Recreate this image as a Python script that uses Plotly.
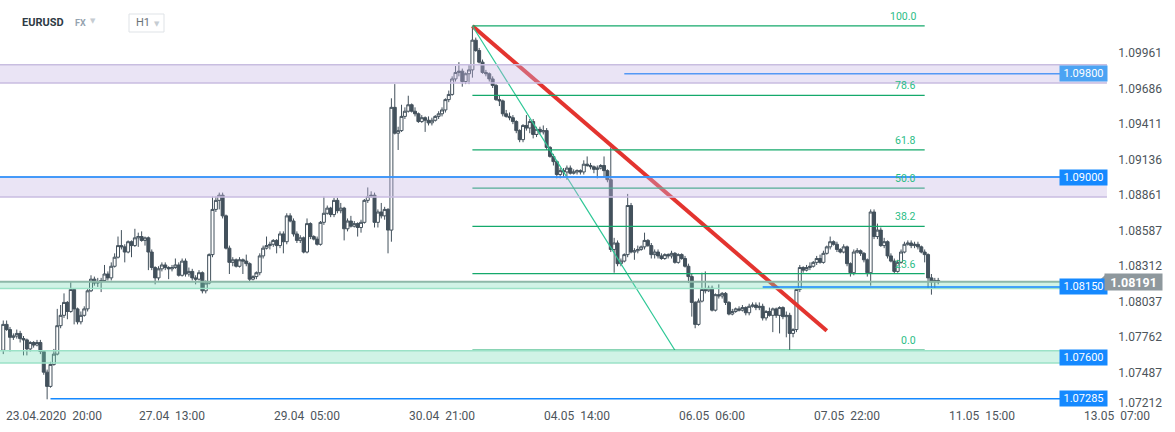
import plotly.graph_objects as go

# EURUSD H1 candles, index 0 = 23.04.2020 10:00 ; prices stored in 1e-4 units
first_open = 10766
closes = [
    10786, 10782, 10776, 10777, 10779, 10775, 10774, 10767, 10772, 10770,
    10772, 10765, 10749, 10738, 10755, 10763, 10785, 10793, 10803, 10796,
    10813, 10798, 10788, 10793, 10798, 10812, 10821, 10818, 10819, 10820,
    10825, 10822, 10831, 10838, 10847, 10846, 10842, 10850, 10847, 10853,
    10854, 10851, 10853, 10842, 10830, 10822, 10829, 10832, 10830, 10829,
    10830, 10832, 10824, 10835, 10825, 10827, 10822, 10821, 10826, 10812,
    10818, 10840, 10875, 10882, 10886, 10870, 10845, 10834, 10836, 10831,
    10836, 10835, 10833, 10821, 10823, 10826, 10839, 10845, 10847, 10848,
    10851, 10847, 10856, 10850, 10870, 10866, 10856, 10851, 10853, 10842,
    10864, 10854, 10852, 10848, 10865, 10872, 10876, 10871, 10882, 10874,
    10876, 10860, 10866, 10862, 10864, 10861, 10865, 10882, 10885, 10886,
    10865, 10873, 10870, 10875, 10859, 10954, 10934, 10936, 10947, 10951,
    10956, 10951, 10949, 10943, 10946, 10944, 10942, 10944, 10947, 10949,
    10952, 10960, 10964, 10976, 10981, 10982, 10974, 10980, 10983, 11006,
    10998, 10989, 10981, 10980, 10976, 10971, 10960, 10959, 10949, 10947,
    10946, 10943, 10936, 10929, 10940, 10938, 10943, 10933, 10937, 10935,
    10936, 10923, 10916, 10912, 10902, 10905, 10904, 10907, 10903, 10904,
    10905, 10904, 10910, 10909, 10908, 10906, 10907, 10909, 10905, 10898,
    10844, 10849, 10833, 10835, 10840, 10878, 10842, 10843, 10844, 10846,
    10851, 10847, 10840, 10842, 10839, 10837, 10840, 10839, 10841, 10834,
    10840, 10837, 10831, 10823, 10803, 10786, 10804, 10813, 10812, 10814,
    10797, 10809, 10808, 10810, 10803, 10794, 10796, 10798, 10797, 10799,
    10795, 10800, 10801, 10799, 10800, 10791, 10796, 10793, 10798, 10793,
    10799, 10792, 10793, 10779, 10782, 10813, 10830, 10828, 10830, 10831,
    10834, 10837, 10834, 10841, 10846, 10850, 10848, 10844, 10842, 10846,
    10833, 10826, 10842, 10843, 10841, 10836, 10826, 10873, 10854, 10859,
    10847, 10850, 10839, 10835, 10827, 10834, 10842, 10848, 10849, 10847,
    10848, 10846, 10842, 10840, 10822, 10819, 10820, 10819,
]
highs = [
    10789, 10789, 10784, 10779, 10782, 10781, 10777, 10775, 10773, 10773,
    10774, 10774, 10766, 10751, 10757, 10767, 10798, 10801, 10810, 10804,
    10819, 10814, 10799, 10796, 10800, 10814, 10824, 10823, 10822, 10822,
    10832, 10827, 10834, 10841, 10854, 10859, 10848, 10851, 10851, 10860,
    10857, 10858, 10854, 10854, 10844, 10831, 10831, 10834, 10834, 10831,
    10832, 10837, 10834, 10837, 10837, 10830, 10829, 10824, 10828, 10827,
    10820, 10841, 10885, 10885, 10888, 10888, 10871, 10847, 10838, 10837,
    10838, 10837, 10840, 10834, 10824, 10827, 10841, 10847, 10854, 10850,
    10852, 10852, 10858, 10858, 10872, 10872, 10868, 10858, 10855, 10854,
    10868, 10865, 10855, 10854, 10866, 10885, 10878, 10877, 10884, 10884,
    10880, 10877, 10868, 10870, 10866, 10865, 10867, 10883, 10892, 10889,
    10888, 10875, 10880, 10877, 10876, 10961, 10972, 10939, 10956, 10954,
    10963, 10957, 10954, 10950, 10948, 10947, 10947, 10946, 10948, 10951,
    10954, 10961, 10967, 10978, 10986, 10989, 10984, 10981, 10987, 11017,
    11008, 11000, 10991, 10983, 10981, 10978, 10972, 10963, 10960, 10952,
    10950, 10948, 10944, 10937, 10941, 10948, 10945, 10945, 10939, 10939,
    10940, 10938, 10924, 10918, 10913, 10907, 10907, 10909, 10909, 10906,
    10906, 10906, 10913, 10916, 10911, 10909, 10909, 10910, 10916, 10906,
    10923, 10853, 10851, 10837, 10841, 10887, 10880, 10845, 10847, 10847,
    10857, 10852, 10849, 10844, 10844, 10841, 10841, 10841, 10843, 10842,
    10841, 10841, 10839, 10833, 10825, 10804, 10806, 10826, 10827, 10816,
    10816, 10810, 10817, 10811, 10811, 10804, 10798, 10799, 10800, 10801,
    10800, 10802, 10803, 10803, 10803, 10802, 10797, 10799, 10799, 10799,
    10800, 10800, 10796, 10795, 10783, 10814, 10832, 10831, 10832, 10834,
    10835, 10839, 10840, 10843, 10847, 10854, 10851, 10850, 10845, 10848,
    10847, 10834, 10844, 10845, 10844, 10842, 10837, 10875, 10875, 10864,
    10861, 10853, 10851, 10841, 10837, 10836, 10844, 10850, 10851, 10851,
    10850, 10850, 10847, 10844, 10841, 10825, 10822, 10822,
]
lows = [
    10763, 10781, 10765, 10774, 10775, 10772, 10762, 10762, 10765, 10768,
    10769, 10763, 10747, 10728, 10737, 10754, 10762, 10783, 10791, 10790,
    10795, 10786, 10786, 10786, 10792, 10796, 10811, 10816, 10815, 10811,
    10819, 10820, 10820, 10830, 10837, 10844, 10834, 10841, 10838, 10846,
    10846, 10850, 10847, 10828, 10828, 10817, 10820, 10827, 10828, 10821,
    10827, 10829, 10823, 10823, 10823, 10823, 10820, 10817, 10820, 10810,
    10810, 10817, 10838, 10873, 10875, 10868, 10844, 10825, 10831, 10830,
    10830, 10825, 10831, 10819, 10820, 10821, 10824, 10837, 10844, 10844,
    10846, 10841, 10845, 10841, 10848, 10865, 10854, 10849, 10849, 10841,
    10841, 10852, 10851, 10847, 10847, 10863, 10871, 10869, 10869, 10872,
    10872, 10851, 10858, 10861, 10861, 10854, 10857, 10864, 10880, 10884,
    10861, 10861, 10868, 10867, 10841, 10850, 10933, 10921, 10935, 10945,
    10950, 10950, 10947, 10942, 10942, 10935, 10940, 10940, 10943, 10945,
    10947, 10950, 10958, 10963, 10974, 10978, 10970, 10972, 10972, 10977,
    10997, 10988, 10980, 10978, 10974, 10969, 10959, 10955, 10947, 10946,
    10944, 10941, 10934, 10927, 10927, 10936, 10934, 10930, 10931, 10933,
    10933, 10921, 10915, 10909, 10899, 10899, 10900, 10898, 10902, 10902,
    10902, 10902, 10902, 10908, 10906, 10903, 10899, 10906, 10900, 10896,
    10842, 10826, 10831, 10831, 10834, 10838, 10841, 10836, 10841, 10843,
    10844, 10846, 10837, 10837, 10837, 10836, 10836, 10837, 10837, 10833,
    10833, 10836, 10830, 10818, 10792, 10783, 10785, 10803, 10810, 10811,
    10796, 10796, 10806, 10806, 10801, 10793, 10793, 10795, 10796, 10796,
    10793, 10793, 10799, 10797, 10797, 10789, 10789, 10792, 10780, 10791,
    10779, 10790, 10776, 10766, 10776, 10780, 10811, 10826, 10827, 10828,
    10830, 10832, 10833, 10833, 10840, 10844, 10847, 10842, 10841, 10841,
    10831, 10823, 10824, 10841, 10839, 10834, 10823, 10816, 10852, 10852,
    10846, 10845, 10837, 10834, 10825, 10826, 10833, 10841, 10847, 10845,
    10845, 10844, 10841, 10834, 10814, 10809, 10814, 10817,
]

date_ticks = [50, 90, 130, 170, 210, 250, 290, 330]
date_labels = ["27.04  13:00", "29.04  05:00", "30.04  21:00",
               "04.05  14:00", "06.05  06:00", "07.05  22:00", "11.05  15:00",
               "13.05  07:00"]
first_tick, first_label = 10, "23.04.2020  20:00"
price_ticks = [1.07487, 1.07762, 1.08037, 1.08312, 1.08587,
               1.08861, 1.09136, 1.09411, 1.09686, 1.09961]
bottom_tick = 1.07212

purple_zones = [(1.09729, 1.09870), (1.08846, 1.09000)]
green_zones = [(1.08137, 1.08190), (1.07561, 1.07655)]
level_prices = [1.09800, 1.09000, 1.08150, 1.07600, 1.07285]
level_starts = [184, -1, 225, None, 14]
last_price = 1.08191

fib_ratios = [0.0, 23.6, 38.2, 50.0, 61.8, 78.6, 100.0]
fib_top_idx, fib_bottom_idx, fib_end_idx = 139, 233, 273
fib_diag_end_idx = 199
red_trend_x = [139, 244]
red_trend_y = [1.1017, 1.0781]

CANDLE = "#43515c"
BLUE = "#1589ff"
FIB = "#14a96b"
AXIS_TXT = "#4d555b"
ZONE_END = 327
X_RANGE = [-0.963, 344.2]
Y_RANGE = [1.07205, 1.10371]
PLOT_W, PLOT_H = 1165, 409

nb = "\u00a0"
idx = list(range(len(closes)))
close_p = [v / 1e4 for v in closes]
high_p = [v / 1e4 for v in highs]
low_p = [v / 1e4 for v in lows]
open_p = [first_open / 1e4] + close_p[:-1]

fig = go.Figure(go.Candlestick(
    x=idx, open=open_p, high=high_p, low=low_p, close=close_p,
    increasing=dict(line=dict(color=CANDLE, width=1), fillcolor="white"),
    decreasing=dict(line=dict(color=CANDLE, width=1), fillcolor=CANDLE),
    whiskerwidth=0, hoverinfo="skip", showlegend=False,
))
# invisible point so the overlay axes (edge labels) get drawn
fig.add_trace(go.Scatter(x=idx[-1:], y=close_p[-1:], xaxis="x2", yaxis="y2", mode="markers",
                         marker=dict(opacity=0), hoverinfo="skip", showlegend=False))

shapes = []


def hline(y, x0, x1, color, width=1):
    shapes.append(dict(type="line", xref="x", yref="y", x0=x0, x1=x1, y0=y, y1=y,
                       line=dict(color=color, width=width), layer="above"))


# trend lines
shapes.append(dict(type="line", xref="x", yref="y", x0=red_trend_x[0], x1=red_trend_x[1],
                   y0=red_trend_y[0], y1=red_trend_y[1],
                   line=dict(color="#e3342f", width=4), layer="above"))

fib_high = highs[fib_top_idx] / 1e4
fib_low = lows[fib_bottom_idx] / 1e4
fib_prices = [fib_low + r / 100 * (fib_high - fib_low) for r in fib_ratios]
shapes.append(dict(type="line", xref="x", yref="y", x0=fib_top_idx, x1=fib_diag_end_idx,
                   y0=fib_high, y1=fib_low, line=dict(color="#2cc795", width=1.2),
                   layer="above"))
for p in fib_prices:
    hline(p, fib_top_idx, fib_end_idx, FIB, 1.2)

# the 1.0980 level sits inside the upper zone
hline(level_prices[0], level_starts[0], ZONE_END, BLUE, 1.5)

for lo, hi in purple_zones:
    shapes.append(dict(type="rect", xref="x", yref="y", x0=-1, x1=ZONE_END, y0=lo, y1=hi,
                       fillcolor="rgba(196,180,228,0.36)", line=dict(width=0), layer="above"))
    hline(lo, -1, ZONE_END, "#c8bde0", 1.5)
    hline(hi, -1, ZONE_END, "#c8bde0", 1.5)

for i, (lo, hi) in enumerate(green_zones):
    shapes.append(dict(type="rect", xref="x", yref="y", x0=-1, x1=ZONE_END, y0=lo, y1=hi,
                       fillcolor="rgba(110,218,176,0.32)", line=dict(width=0), layer="above"))
    hline(lo, -1, ZONE_END, "#9be2c7", 1.5)
    hline(hi, -1, ZONE_END, "#8db8a8" if i == 0 else "#9be2c7", 2 if i == 0 else 1.5)

for p, start in zip(level_prices[1:], level_starts[1:]):
    if start is not None:
        hline(p, start, ZONE_END, BLUE, 1.5)

# arrow of the last-price tag
shapes.append(dict(type="path", xref="x", yref="y",
                   path=f"M 324.4,{last_price} L 326.6,{last_price + 0.00055} "
                        f"L 326.6,{last_price - 0.00055} Z",
                   fillcolor="#8e989d", line=dict(width=0), layer="above"))

# H1 selector box
shapes.append(dict(type="rect", xref="paper", yref="paper",
                   x0=129 / PLOT_W, x1=164 / PLOT_W, y0=1 - 32 / PLOT_H, y1=1 - 14 / PLOT_H,
                   line=dict(color="#dfe3e7", width=1), fillcolor="white", layer="above"))

annotations = []
for p, txt in zip(level_prices, ["1.09800", "1.09000", "1.08150", "1.07600", "1.07285"]):
    annotations.append(dict(x=320, y=p, xref="x", yref="y", text=txt, showarrow=False,
                            font=dict(color="white", size=11, family="Roboto"),
                            bgcolor="#4ba3f3" if txt == "1.09800" else BLUE,
                            borderpad=1, width=45, height=13))
annotations.append(dict(x=334.9, y=last_price, xref="x", yref="y", text="<b>1.08191</b>",
                        showarrow=False, font=dict(color="white", size=12.5, family="Roboto"),
                        bgcolor="#8e989d", borderpad=1, width=55, height=14))

for r, p in zip(fib_ratios, fib_prices):
    annotations.append(dict(x=271, y=p, xref="x", yref="y", text=f"{r:.1f}",
                            showarrow=False, xanchor="right", yanchor="bottom", yshift=1,
                            font=dict(color="#2bbd86", size=10.5, family="Roboto")))


def header(x, y, text, color, size, family="Roboto"):
    annotations.append(dict(x=x / PLOT_W, y=1 - y / PLOT_H, xref="paper", yref="paper",
                            text=text, showarrow=False, xanchor="left", yanchor="middle",
                            font=dict(color=color, size=size, family=family)))


header(20, 23, "<b>EURUSD</b>", "#2e3b45", 11)
header(73, 23, "<b>FX</b>", "#95a3af", 9)
header(88, 21, "▼", "#c6ccd2", 7, "DejaVu Sans")
header(134, 23, "H1", "#6a7277", 11)
header(152, 24, "▼", "#c6ccd2", 7, "DejaVu Sans")

xaxis_common = dict(range=X_RANGE, tickfont=dict(size=12, color=AXIS_TXT), showgrid=False,
                    zeroline=False, showline=False, ticks="", automargin=False,
                    ticklabeloverflow="allow", ticklabelstandoff=-2, fixedrange=True)
yaxis_common = dict(range=Y_RANGE, side="right", ticklabelposition="inside",
                    ticklabeloverflow="allow", tickfont=dict(size=12, color=AXIS_TXT),
                    showgrid=False, zeroline=False, showline=False, ticks="",
                    automargin=False, fixedrange=True)

fig.update_layout(
    width=1175, height=432,
    margin=dict(l=0, r=10, t=0, b=23),
    paper_bgcolor="white", plot_bgcolor="white",
    font=dict(family="Roboto", color=AXIS_TXT),
    boxgap=0.12, boxgroupgap=0,
    shapes=shapes, annotations=annotations,
    xaxis=dict(tickvals=date_ticks, ticktext=[t.replace("  ", nb + nb) for t in date_labels],
               rangeslider=dict(visible=False), **xaxis_common),
    xaxis2=dict(overlaying="x", side="bottom", tickvals=[first_tick],
                ticktext=[first_label.replace("  ", nb + nb)], ticklabelshift=17,
                **xaxis_common),
    yaxis=dict(tickvals=price_ticks, ticktext=[f"{v:.5f}" for v in price_ticks],
               **yaxis_common),
    yaxis2=dict(overlaying="y", tickvals=[bottom_tick], ticktext=[f"{bottom_tick:.5f}"],
                ticklabelshift=-5, **yaxis_common),
)

fig.write_html("out.html", config={"displayModeBar": False},
               post_script="document.body.style.margin='0';"
                           "document.body.style.overflow='hidden';")
